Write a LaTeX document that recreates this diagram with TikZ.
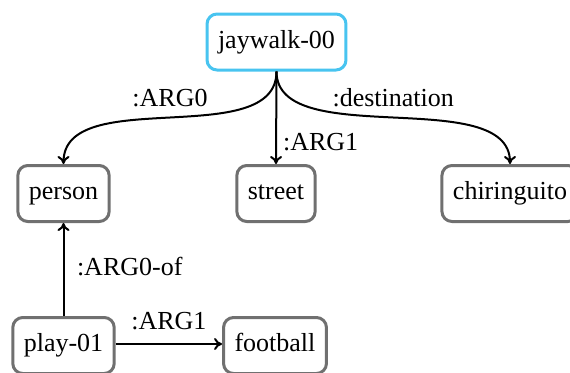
\documentclass[tikz,border=0pt]{standalone}
\usepackage{fontspec}
\setmainfont{Liberation Serif}
\newfontfamily\amrfont{Liberation Serif}
\usetikzlibrary{arrows.meta}
\definecolor{rootblue}{RGB}{72,196,240}
\definecolor{boxgray}{RGB}{112,112,112}
\tikzset{
  amrtext/.style={font=\amrfont\fontsize{26}{30}\selectfont},
  concept/.style={amrtext, draw=boxgray, line width=3pt, rounded corners=10pt, fill=white,
    inner xsep=11pt, minimum height=56pt, text height=18pt, text depth=6pt},
  rootconcept/.style={concept, draw=rootblue},
  relation/.style={line width=2pt, -{To[length=8pt,width=12pt]}},
  rolelabel/.style={amrtext, inner sep=0pt, text depth=0pt}
}
\begin{document}
\begin{tikzpicture}[x=1pt,y=-1pt]
  \useasboundingbox (0,0) rectangle (570,372);
  % concepts
  \node[rootconcept] (jay) at (276.5,42) {jaywalk-00};
  \node[concept] (person) at (63.5,193.5) {person};
  \node[concept] (street) at (276,193.5) {street};
  \node[concept] (chir) at (510,193.5) {chiringuito};
  \node[concept] (play) at (63.5,345.5) {play-01};
  \node[concept] (ball) at (275,345.5) {football};
  % relations
  \draw[relation] (jay.south) .. controls +(0,80) and +(0,-80) .. (person.north)
    node[rolelabel, pos=0.5, anchor=south, yshift=10.5pt] (l0) {:ARG0};
  \draw[relation] (jay.south) -- (street.north)
    node[rolelabel, pos=0.87, anchor=south west, xshift=6pt] (l1) {:ARG1};
  \draw[relation] (jay.south) .. controls +(0,80) and +(0,-80) .. (chir.north)
    node[rolelabel, pos=0.5, anchor=south, yshift=10.5pt] (l2) {:destination};
  \draw[relation] (play.north) -- (person.south)
    node[rolelabel, pos=0.42, anchor=south west, xshift=12.5pt] (l3) {:ARG0-of};
  \draw[relation] ([yshift=1.5pt]play.east) -- ([yshift=1.5pt]ball.west)
    node[rolelabel, pos=0.5, anchor=south, yshift=14pt] (l4) {:ARG1};
\end{tikzpicture}
\end{document}
